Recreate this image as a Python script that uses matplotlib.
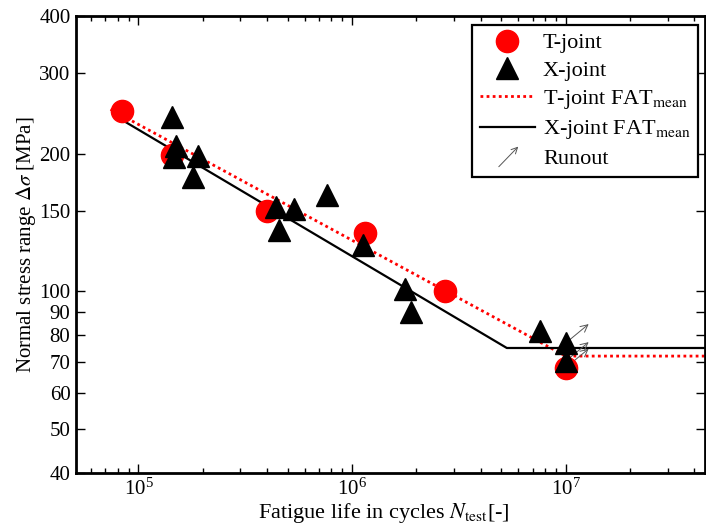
import matplotlib
matplotlib.use("Agg")
import matplotlib.pyplot as plt
import matplotlib.patches as mpatches
from matplotlib.lines import Line2D
from matplotlib.legend_handler import HandlerPatch
from matplotlib.ticker import FixedLocator, FixedFormatter, LogLocator, NullFormatter

plt.rcParams['font.family'] = ['Liberation Serif', 'DejaVu Serif']
plt.rcParams['mathtext.fontset'] = 'stix'

# T-joint test results (cycles, stress range MPa)
t_cycles = [8.4e4, 1.43e5, 4.0e5, 1.15e6, 2.72e6, 1.0e7]
t_stress = [248, 199, 150, 134, 100, 68]

# X-joint test results
x_cycles = [1.43e5, 1.50e5, 1.46e5, 1.89e5, 1.81e5, 4.42e5, 5.36e5, 4.56e5,
            7.64e5, 1.12e6, 1.77e6, 1.89e6, 7.56e6, 1.0e7, 1.0e7]
x_stress = [240, 208, 197, 198, 178, 153, 151, 136,
            162, 126, 101, 90, 82, 77, 70.3]

# runouts (did not fail at 1e7)
run_cycles = [1.0e7, 1.0e7, 1.0e7]
run_stress = [77, 70.3, 68]

# mean S-N curves: start, knee, end
tfat_cycles = [7.4e4, 1.0e7, 4.5e7]
tfat_stress = [250, 72.1, 72.1]
xfat_cycles = [8.0e4, 5.3e6, 4.5e7]
xfat_stress = [240, 75.1, 75.1]

yticks = [40, 50, 60, 70, 80, 90, 100, 150, 200, 300, 400]

fig = plt.figure(figsize=(7.06, 5.25), dpi=100)
ax = fig.add_axes([0.1076, 0.099, 0.8914, 0.8705])

ax.plot(tfat_cycles, tfat_stress, color='red', lw=2.0, ls=(0, (1, 1.2)), zorder=2)
ax.plot(xfat_cycles, xfat_stress, color='black', lw=1.6, zorder=2)

# runout arrows, pointing up-right from each point
for n, s in zip(run_cycles, run_stress):
    arr = mpatches.FancyArrowPatch((n, s), (n * 1.31, s * 1.11), arrowstyle='->',
                                   mutation_scale=13, lw=0.7, color='#555555', zorder=2.5)
    ax.add_patch(arr)

ax.plot(t_cycles, t_stress, 'o', color='red', ms=16, ls='none', zorder=3)
ax.plot(x_cycles, x_stress, '^', color='black', ms=16, ls='none', zorder=4)

ax.set_xscale('log')
ax.set_yscale('log')
ax.set_xlim(5.1e4, 4.5e7)
ax.set_ylim(40, 400)

ax.yaxis.set_major_locator(FixedLocator(yticks))
ax.yaxis.set_major_formatter(FixedFormatter([str(v) for v in yticks]))
ax.yaxis.set_minor_locator(FixedLocator([]))
ax.xaxis.set_major_locator(LogLocator(base=10))
ax.xaxis.set_minor_locator(LogLocator(base=10, subs=range(2, 10)))
ax.xaxis.set_minor_formatter(NullFormatter())

ax.tick_params(which='both', direction='in', top=True, right=True, labelsize=15, width=1.0)
ax.tick_params(which='major', length=6.5, pad=4)
ax.tick_params(which='minor', length=3.6)
for sp in ax.spines.values():
    sp.set_linewidth(2)

ax.set_xlabel(r'Fatigue life in cycles $N_{\mathrm{test}}$[-]', fontsize=16, labelpad=-1)
ax.xaxis.set_label_coords(0.489, -0.062)
ax.set_ylabel(r'Normal stress range $\mathit{\Delta\sigma}$ [MPa]', fontsize=15, labelpad=1)


def make_arrow(legend, orig_handle, xdescent, ydescent, width, height, fontsize):
    return mpatches.FancyArrowPatch((0.31 * width, -0.3 * height), (0.73 * width, 1.25 * height),
                                    arrowstyle='->', mutation_scale=11, lw=0.7, color='#555555')


runout_handle = mpatches.Patch(label='Runout')
handles = [
    Line2D([], [], marker='o', color='red', ms=16, ls='none', label='T-joint'),
    Line2D([], [], marker='^', color='black', ms=16, ls='none', label='X-joint'),
    Line2D([], [], color='red', lw=2.0, ls=(0, (1, 1.2)), label=r'T-joint FAT$_{\mathrm{mean}}$'),
    Line2D([], [], color='black', lw=1.6, label=r'X-joint FAT$_{\mathrm{mean}}$'),
    runout_handle,
]
leg = ax.legend(handles=handles, loc='upper right', bbox_to_anchor=(0.989, 0.980),
                borderaxespad=0, fontsize=16, handlelength=2.5, handletextpad=0.35,
                labelspacing=0.32, borderpad=0.35, fancybox=False, framealpha=1,
                edgecolor='black',
                handler_map={runout_handle: HandlerPatch(patch_func=make_arrow,
                                                         update_func=lambda h, o: None)})
leg.get_frame().set_linewidth(1.6)

fig.savefig('out.png', dpi=100)
